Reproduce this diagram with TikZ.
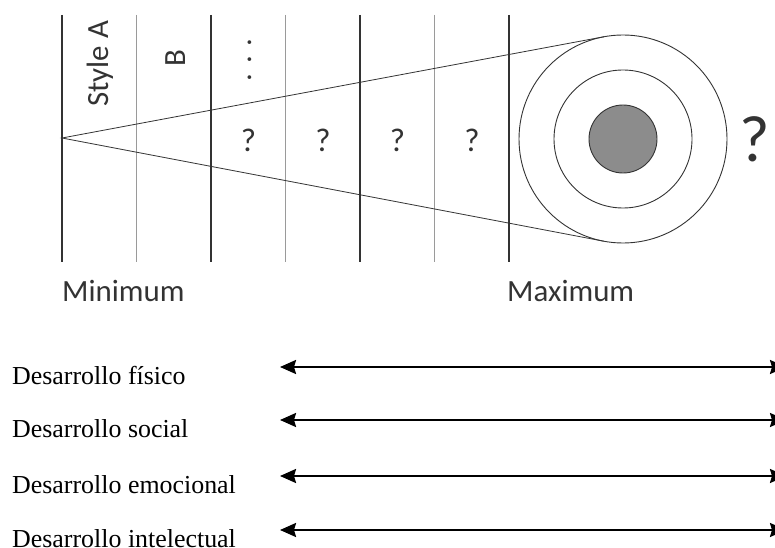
\documentclass[tikz,border=0pt]{standalone}
\usepackage{fontspec}
\setmainfont{Liberation Serif}
\newfontfamily\labelfont{Carlito}
\usetikzlibrary{arrows.meta,calc}
\definecolor{Ink}{HTML}{333333}
\definecolor{Rule}{HTML}{9A9A9A}
\definecolor{Core}{HTML}{8C8C8C}

\begin{document}
\begin{tikzpicture}[x=1bp,y=-1bp,
    lab/.style={font=\labelfont\fontsize{31}{31}\selectfont,text=Ink,inner sep=0pt},
    ring/.style={circle,draw=Ink,line width=0.9bp,inner sep=0pt,outer sep=0pt},
    span/.style={line width=2.2bp,{Stealth[length=16bp,width=14bp,inset=2bp]}-{Stealth[length=16bp,width=14bp,inset=2bp]}}]
  \useasboundingbox (0,0) rectangle (775,548);
  \foreach \i/\col/\w in {0/Ink/1.1,1/Rule/0.8,2/Ink/1.1,3/Rule/0.8,4/Ink/1.1,5/Rule/0.8,6/Ink/1.1}{
    \coordinate (top\i) at (62+74.5*\i,15);
    \coordinate (bot\i) at (62+74.5*\i,262);
    \draw[\col,line width=\w bp] (top\i) -- (bot\i);
  }
  \coordinate (apex) at (62,138);
  \node[ring,minimum size=208bp] (outer) at (623,139) {};
  \node[ring,minimum size=138bp] (middle) at (623,139) {};
  \node[ring,fill=Core,minimum size=68bp] (core) at (623,139) {};
  \draw[Ink,line width=0.8bp] (tangent cs:node=outer,point={(apex)},solution=1) -- (apex)
    -- (tangent cs:node=outer,point={(apex)},solution=2);
  \node[lab,rotate=90,anchor=base west] (styleA) at (108,107) {Style A};
  \node[lab,rotate=90,anchor=base] (styleB) at (185,58) {B};
  \node[lab,rotate=90,anchor=base] (more) at (251,60) {.\hspace{10bp}.\hspace{10bp}.};
  \foreach \i in {0,...,3}{
    \node[lab,font=\labelfont\fontsize{33}{33}\selectfont,anchor=base] (q\i) at (248.5+74.5*\i,152) {?};
  }
  \node[lab,font=\labelfont\fontsize{66}{66}\selectfont,anchor=base] (goal) at (755,162) {?};
  \node[lab,anchor=base west] (minimum) at (62,302) {Minimum};
  \node[lab,anchor=base west] (maximum) at (507,302) {Maximum};
  \foreach \k/\name/\y in {1/físico/367,2/social/420,3/emocional/476,4/intelectual/530}{
    \node[font=\fontsize{26}{26}\selectfont,anchor=base west,inner sep=0pt] (dev\k) at (12,\y+17) {Desarrollo \name};
    \coordinate (from\k) at (280,\y);
    \coordinate (to\k) at (786,\y);
    \draw[span] (from\k) -- (to\k);
  }
\end{tikzpicture}
\end{document}
